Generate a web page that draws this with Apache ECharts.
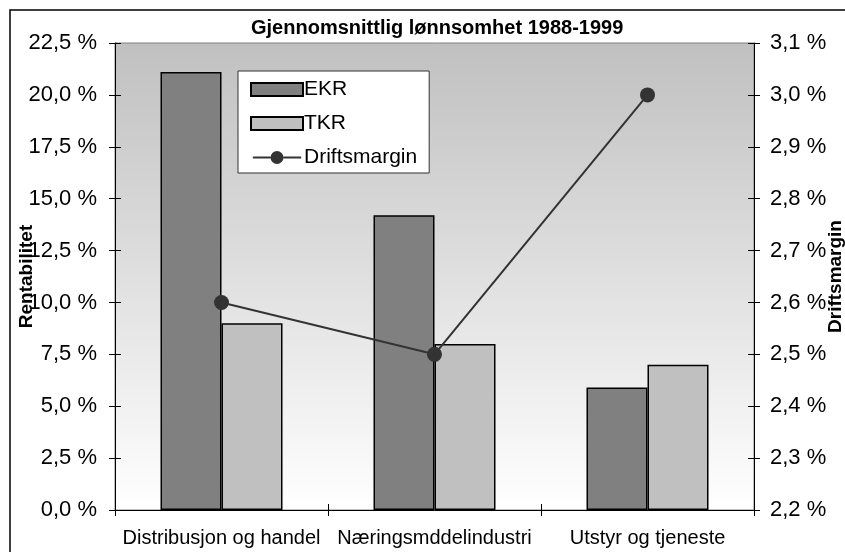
<!DOCTYPE html>
<html>
<head>
<meta charset="utf-8">
<script src="https://cdn.jsdelivr.net/npm/echarts@6/dist/echarts.min.js"></script>
<style>
  html, body { margin: 0; padding: 0; background: #fff; }
  #chart { width: 845px; height: 552px; }
</style>
</head>
<body>
<div id="chart"></div>
<script>
const categories = ['Distribusjon og handel', 'Næringsmddelindustri', 'Utstyr og tjeneste']
const ekr = [21.1, 14.2, 5.9]
const tkr = [9.0, 8.0, 7.0]
const driftsmargin = [2.6, 2.5, 3.0]

const fontFamily = '"Liberation Sans", Arial, sans-serif'
const pctFmt = v => v.toFixed(1).replace('.', ',') + ' %'

// legend icon for the line: short line with a dot in the middle
const lineDotIcon = 'path://M0,6 L19,6 L19,8 L0,8 Z M33,6 L52,6 L52,8 L33,8 Z M19,7 A7,7 0 1,1 33,7 A7,7 0 1,1 19,7 Z'

const chart = echarts.init(document.getElementById('chart'))

const tickOut = {show: true, inside: false, length: 6, lineStyle: {color: '#000', width: 1}}
const tickIn = {show: true, inside: true, length: 6, lineStyle: {color: '#000', width: 1}}

chart.setOption({
  backgroundColor: '#fff',
  animation: false,
  textStyle: {fontFamily: fontFamily, color: '#000'},
  title: {
    text: 'Gjennomsnittlig lønnsomhet 1988-1999',
    left: 246,
    top: 13,
    padding: 5,
    textStyle: {fontSize: 20, fontWeight: 'bold', color: '#000', fontFamily: fontFamily},
  },
  graphic: [
    {
      type: 'rect',
      shape: {x: 10, y: 10, width: 900, height: 600},
      style: {fill: 'none', stroke: '#000', lineWidth: 1.5},
      silent: true,
    },
  ],
  legend: {
    orient: 'vertical',
    left: 238,
    top: 71,
    backgroundColor: '#fff',
    borderColor: '#333',
    borderWidth: 1,
    borderRadius: 0,
    padding: [8, 12, 5, 12],
    itemWidth: 52,
    itemHeight: 13,
    itemGap: 13,
    textStyle: {fontSize: 21, color: '#000', fontFamily: fontFamily, padding: [0, 0, 0, -4]},
    data: [
      {name: 'EKR', icon: 'rect'},
      {name: 'TKR', icon: 'rect'},
      {name: 'Driftsmargin', icon: lineDotIcon},
    ],
  },
  grid: {
    left: 115,
    right: 91,
    top: 43,
    bottom: 42,
    outerBoundsMode: 'none',
    containLabel: false,
    show: true,
    borderColor: '#808080',
    borderWidth: 1,
    backgroundColor: {
      type: 'linear', x: 0, y: 0, x2: 0, y2: 1,
      colorStops: [{offset: 0, color: '#c0c0c0'}, {offset: 1, color: '#ffffff'}],
    },
  },
  xAxis: [
    {
      type: 'category',
      data: categories,
      axisLine: {lineStyle: {color: '#000', width: 1}},
      axisTick: tickOut,
      axisLabel: {fontSize: 20, color: '#000', margin: 18, interval: 0, hideOverlap: false},
    },
    {
      type: 'category',
      data: categories,
      position: 'bottom',
      axisLine: {show: false},
      axisTick: tickIn,
      axisLabel: {show: false},
    },
  ],
  yAxis: [
    {
      type: 'value',
      min: 0,
      max: 22.5,
      interval: 2.5,
      name: 'Rentabilitet',
      nameLocation: 'middle',
      nameRotate: 90,
      nameGap: 79,
      nameMoveOverlap: false,
      nameTextStyle: {fontSize: 19, fontWeight: 'bold', color: '#000'},
      axisLine: {show: true, lineStyle: {color: '#000', width: 1}},
      axisTick: tickOut,
      splitLine: {show: false},
      axisLabel: {fontSize: 22, color: '#000', margin: 18, formatter: pctFmt},
    },
    {
      type: 'value',
      position: 'right',
      min: 2.2,
      max: 3.1,
      interval: 0.1,
      name: 'Driftsmargin',
      nameLocation: 'middle',
      nameRotate: 90,
      nameGap: 72,
      nameMoveOverlap: false,
      nameTextStyle: {fontSize: 19, fontWeight: 'bold', color: '#000'},
      axisLine: {show: true, lineStyle: {color: '#000', width: 1}},
      axisTick: tickOut,
      splitLine: {show: false},
      axisLabel: {fontSize: 22, color: '#000', margin: 16, formatter: pctFmt},
    },
    {
      type: 'value',
      position: 'left',
      min: 0,
      max: 22.5,
      interval: 2.5,
      axisLine: {show: false},
      axisTick: tickIn,
      splitLine: {show: false},
      axisLabel: {show: false},
    },
    {
      type: 'value',
      position: 'right',
      min: 2.2,
      max: 3.1,
      interval: 0.1,
      axisLine: {show: false},
      axisTick: tickIn,
      splitLine: {show: false},
      axisLabel: {show: false},
    },
  ],
  series: [
    {
      name: 'EKR',
      type: 'bar',
      data: ekr,
      barWidth: 61,
      barGap: '0%',
      itemStyle: {color: '#808080', borderColor: '#000', borderWidth: 1.5},
    },
    {
      name: 'TKR',
      type: 'bar',
      data: tkr,
      barWidth: 61,
      barGap: '0%',
      itemStyle: {color: '#c0c0c0', borderColor: '#000', borderWidth: 1.5},
    },
    {
      name: 'Driftsmargin',
      type: 'line',
      yAxisIndex: 1,
      data: driftsmargin,
      symbol: 'circle',
      symbolSize: 15,
      lineStyle: {color: '#333333', width: 2},
      itemStyle: {color: '#333333'},
    },
  ],
})
</script>
</body>
</html>
